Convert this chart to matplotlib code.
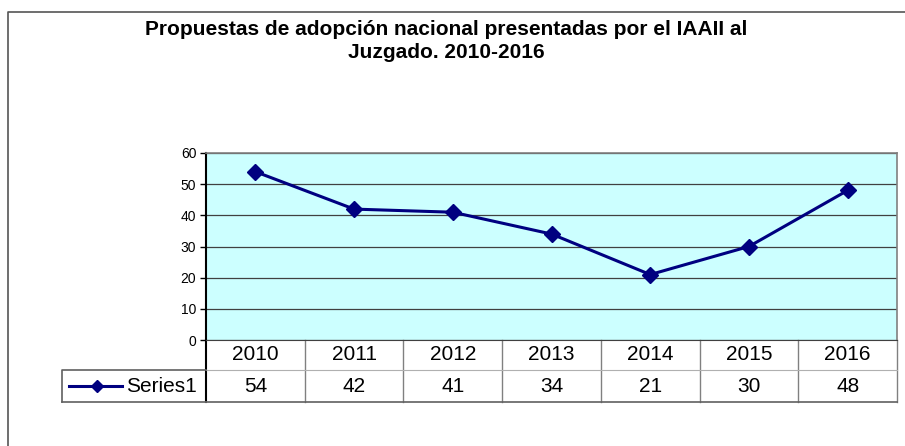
import matplotlib
matplotlib.use("Agg")
import matplotlib.pyplot as plt
from matplotlib.lines import Line2D

plt.rcParams['font.family'] = ['Liberation Sans', 'DejaVu Sans']

# datos
years = ['2010', '2011', '2012', '2013', '2014', '2015', '2016']
values = [54, 42, 41, 34, 21, 30, 48]
series_name = 'Series1'
title = 'Propuestas de adopción nacional presentadas por el IAAII al\nJuzgado. 2010-2016'

W, H = 905, 446
fig = plt.figure(figsize=(W / 100, H / 100), dpi=100)

# marco exterior (solo lados izquierdo y superior visibles)
fig.add_artist(Line2D([8 / W, 8 / W, 1], [0, 1 - 12 / H, 1 - 12 / H],
                      transform=fig.transFigure, color='#555555', lw=1.2))

fig.text(446 / W, 1 - 41 / H, title, ha='center', va='center',
         fontsize=15, fontweight='bold', linespacing=1.25)

# area de trazado
left, right, top, bottom = 206, 897, 153, 340
ax = fig.add_axes([left / W, 1 - bottom / H, (right - left) / W, (bottom - top) / H])
ax.set_facecolor('#CCFFFF')

x = list(range(len(years)))
ax.plot(x, values, color='#000080', lw=2.2, marker='D', markersize=8.5, zorder=3)
ax.set_xlim(-0.5, len(years) - 0.5)
ax.set_ylim(0, 60)
ax.set_yticks(range(0, 61, 10))
ax.tick_params(axis='y', labelsize=10, length=4, width=1, pad=3, direction='out')
ax.set_xticks([])
ax.grid(axis='y', color='#404040', lw=0.9)
for s in ['top', 'right']:
    ax.spines[s].set_color('#808080')
    ax.spines[s].set_linewidth(1.2)
ax.spines['left'].set_color('black')
ax.spines['left'].set_linewidth(1.5)
ax.spines['bottom'].set_color('#404040')

# tabla de datos bajo el eje
h_ax = bottom - top
row1 = -(370 - bottom) / h_ax
row2 = -(402 - bottom) / h_ax
trans = ax.get_xaxis_transform()
tcol = '#808080'
for i in range(len(years) + 1):
    xe = i - 0.5
    lw = 1.5 if i == 0 else 1.0
    c = 'black' if i == 0 else tcol
    ax.add_artist(Line2D([xe, xe], [0, row2], transform=trans, color=c,
                         lw=lw, clip_on=False))
ax.add_artist(Line2D([-0.5, len(years) - 0.5], [row2, row2], transform=trans,
                     color='#606060', lw=1.2, clip_on=False))
ax.add_artist(Line2D([-0.5, len(years) - 0.5], [row1, row1], transform=trans,
                     color='#B0B0B0', lw=0.8, clip_on=False))
for i, (yr, v) in enumerate(zip(years, values)):
    ax.text(i, row1 / 2, yr, transform=trans, ha='center', va='center',
            fontsize=15, clip_on=False)
    ax.text(i, (row1 + row2) / 2, str(v), transform=trans, ha='center',
            va='center', fontsize=15, clip_on=False)

# celda de leyenda
y1 = 1 - 370 / H
y2 = 1 - 402 / H
fig.add_artist(Line2D([62 / W, 62 / W, left / W], [y2, y1, y1],
                      transform=fig.transFigure, color='#606060', lw=1.2))
fig.add_artist(Line2D([62 / W, left / W], [y2, y2],
                      transform=fig.transFigure, color='#606060', lw=1.2))
ym = 1 - 386 / H
fig.add_artist(Line2D([69 / W, 122 / W], [ym, ym], transform=fig.transFigure,
                      color='#000080', lw=2.2))
fig.add_artist(Line2D([97 / W], [ym], transform=fig.transFigure,
                      color='#000080', marker='D', markersize=6.5, lw=0))
fig.text(126 / W, ym, series_name, ha='left', va='center', fontsize=15)

fig.savefig('out.png', dpi=100)
